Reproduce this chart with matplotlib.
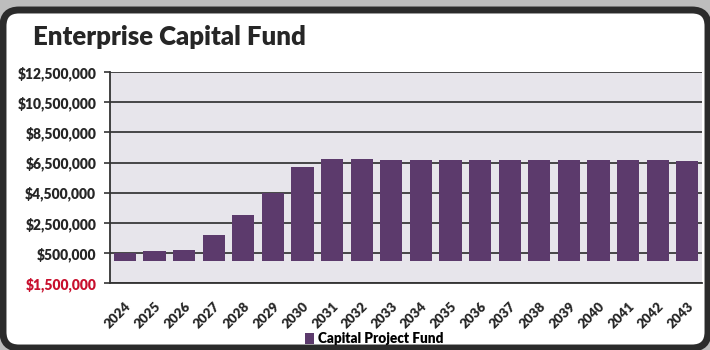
import matplotlib.pyplot as plt
from matplotlib.patches import FancyBboxPatch, Patch

plt.rcParams['font.family'] = ['Lato', 'DejaVu Sans']

years = [str(y) for y in range(2024, 2044)]
capital_project_fund = [510000, 600000, 710000, 1680000, 2990000, 4470000, 6220000,
                        6720000, 6710000, 6700000, 6690000, 6690000, 6680000, 6670000,
                        6670000, 6660000, 6650000, 6650000, 6640000, 6630000]
y_ticks = [-1500000, 500000, 2500000, 4500000, 6500000, 8500000, 10500000, 12500000]

bar_color = '#5c3a6c'
text_color = '#262626'

fig = plt.figure(figsize=(7.1, 3.5), dpi=100, facecolor='#bdbdbd')

# white card with a dark rounded frame, kept behind everything else
card = FancyBboxPatch((0.03, 0.02), 7.05, 3.38, boxstyle='round,pad=0,rounding_size=0.16',
                      transform=fig.dpi_scale_trans, facecolor='white', edgecolor='#2b2b2b',
                      linewidth=5, zorder=-10)
fig.patches.append(card)

ax = fig.add_axes([0.155, 0.191, 0.834, 0.603])
ax.set_zorder(1)
ax.set_facecolor('#e7e5eb')

x = range(len(years))
ax.bar(x, capital_project_fund, width=0.75, color=bar_color, zorder=3)

ax.set_xlim(-0.5, len(years) - 0.5)
ax.set_ylim(y_ticks[0], y_ticks[-1])
ax.set_yticks(y_ticks)
ax.set_yticklabels([f'${abs(v):,.0f}' for v in y_ticks])
for lbl, v in zip(ax.get_yticklabels(), y_ticks):
    lbl.set_color('#c8102e' if v < 0 else text_color)
    lbl.set_fontweight('heavy')
    lbl.set_fontsize(10)

ax.set_xticks(list(x))
ax.set_xticklabels(years, rotation=45, ha='right', rotation_mode='anchor',
                   fontsize=9.6, fontweight='heavy', color=text_color)
ax.tick_params(axis='x', length=0, pad=12)
ax.tick_params(axis='y', length=4, width=1.2, color='#333333', pad=6)

ax.grid(axis='y', color='#3a3a3a', linewidth=1.3, zorder=1)
ax.set_axisbelow(True)
for side in ['top', 'right']:
    ax.spines[side].set_visible(False)
ax.spines['left'].set_color('#333333')
ax.spines['left'].set_linewidth(1.3)
ax.spines['bottom'].set_color('#333333')
ax.spines['bottom'].set_linewidth(1.3)

fig.text(0.046, 0.895, 'Enterprise Capital Fund', fontsize=18.5, fontweight='heavy',
         color=text_color, ha='left', va='center')

fig.legend(handles=[Patch(facecolor=bar_color, label='Capital Project Fund')],
           loc='center', bbox_to_anchor=(0.527, 0.033), frameon=False,
           handlelength=0.7, handleheight=0.9, handletextpad=0.3,
           prop={'weight': 'heavy', 'size': 9.8})

fig.savefig('out.png', dpi=100, facecolor=fig.get_facecolor())
